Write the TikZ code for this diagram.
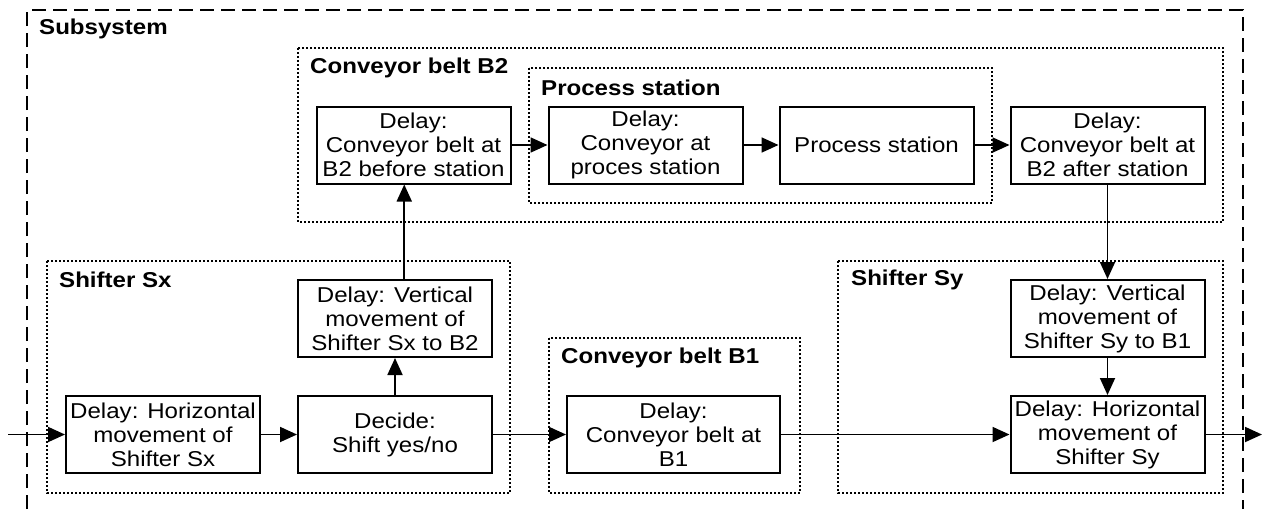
\documentclass[tikz,border=0pt]{standalone}
\usepackage{fontspec}
\setmainfont{Liberation Sans}[FakeStretch=1.12]
\usetikzlibrary{arrows.meta,calc}
\tikzset{
  box/.style={draw, line width=2pt, minimum width=194pt, minimum height=77pt, inner sep=0pt, align=center, font=\fontsize{21.5}{24}\selectfont},
  frame/.style={draw, line width=1.5pt, dash pattern=on 2pt off 2pt},
  outer/.style={draw, line width=2pt, dash pattern=on 14pt off 7pt},
  lbl/.style={anchor=west, inner sep=0pt, font=\fontsize{21.5}{24}\selectfont\bfseries},
  arr/.style={line width=1.8pt, -{Triangle[length=17pt,width=15pt]}}
}
\begin{document}
\begin{tikzpicture}[x=1pt,y=-1pt]
\useasboundingbox (0,0) rectangle (1263,509);
% outer subsystem frame (open at bottom)
\draw[outer] (27,509) -- (27,10) -- (1243,10) -- (1243,509);
\node[lbl] (lsub) at (39,29) {Subsystem};
% container frames
\draw[frame] (298,48) rectangle (1223,222);
\node[lbl] (lb2) at (310,68) {Conveyor belt B2};
\draw[frame] (529,68) rectangle (992,203);
\node[lbl] (lps) at (541,88) {Process station};
\draw[frame] (47,261) rectangle (510,493);
\node[lbl] (lsx) at (59,280) {Shifter Sx};
\draw[frame] (549,338) rectangle (800,493);
\node[lbl] (lb1) at (561,358) {Conveyor belt B1};
\draw[frame] (838,261) rectangle (1223,493);
\node[lbl] (lsy) at (851,280) {Shifter Sy};
% boxes
\node[box] (b2b) at (413.5,145) {Delay:\\Conveyor belt at\\B2 before station};
\node[box] (pd) at (645.5,145) {Delay:\\Conveyor at\\proces station};
\node[box] (ps) at (876.5,145) {Process station};
\node[box] (b2a) at (1107.5,145) {Delay:\\Conveyor belt at\\B2 after station};
\node[box] (vsx) at (395,318.5) {Delay: Vertical\\movement of\\Shifter Sx to B2};
\node[box] (dec) at (395,434.5) {Decide:\\Shift yes/no};
\node[box] (hsx) at (163,434.5) {Delay: Horizontal\\movement of\\Shifter Sx};
\node[box, minimum width=213pt] (b1) at (673.5,434.5) {Delay:\\Conveyor belt at\\B1};
\node[box] (vsy) at (1107.5,318.5) {Delay: Vertical\\movement of\\Shifter Sy to B1};
\node[box] (hsy) at (1107.5,434.5) {Delay: Horizontal\\movement of\\Shifter Sy};
% free ends
\coordinate (in) at (8,434.5);
\coordinate (out) at (1262,434.5);
\coordinate (mid) at ($(vsx.north)!0.5!(b2b.south)$);
% connectors
\draw[arr] (in) -- (hsx);
\draw[arr] (hsx) -- (dec);
\draw[arr] (dec) -- (vsx);
\draw[arr] (vsx.north -| mid) -- (b2b.south -| mid);
\draw[arr] (b2b) -- (pd);
\draw[arr] (pd) -- (ps);
\draw[arr] (ps) -- (b2a);
\draw[arr] (b2a) -- (vsy);
\draw[arr] (vsy) -- (hsy);
\draw[arr] (dec) -- (b1);
\draw[arr] (b1) -- (hsy);
\draw[arr] (hsy) -- (out);
\end{tikzpicture}
\end{document}
